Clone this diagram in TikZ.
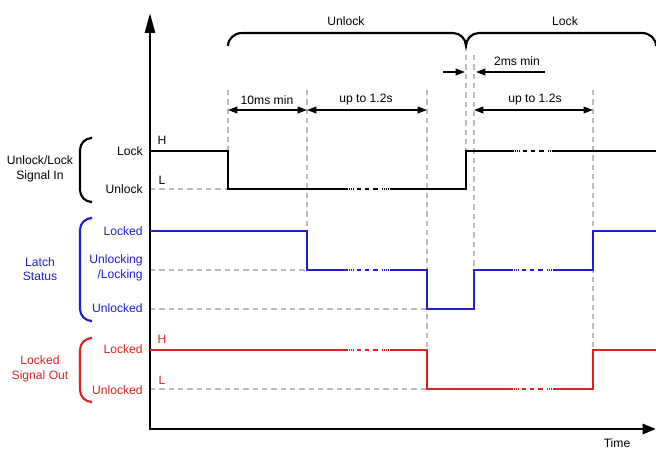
\documentclass[tikz,border=0pt]{standalone}
\usepackage{fontspec}
\setmainfont{Liberation Sans}
\usetikzlibrary{arrows.meta}
\definecolor{sigblue}{RGB}{30,30,205}
\definecolor{sigred}{RGB}{220,35,35}
\definecolor{guide}{RGB}{185,185,185}
\tikzset{
  lbl/.style={font=\fontsize{9.1}{11}\selectfont, inner sep=0pt, align=center},
  rlbl/.style={lbl, anchor=east, align=right},
  guideline/.style={guide, line width=1.4pt, dash pattern=on 4pt off 3pt},
  sig/.style={line width=2pt},
  brk/.style={line width=2pt, dash pattern=on 0.75pt off 0.75pt on 0.75pt off 0.75pt on 0.75pt off 0.75pt on 0.75pt off 2pt on 3.5pt off 2.6pt on 3.5pt off 2.6pt on 3.5pt off 3pt},
  dimline/.style={line width=1.2pt},
  tip/.style={-{Triangle[length=7pt,width=5pt]}},
  dtip/.style={{Triangle[length=7pt,width=5pt]}-{Triangle[length=7pt,width=5pt]}},
  bracket/.style={line width=1.6pt},
  axisline/.style={line width=2pt}
}
\begin{document}
\begin{tikzpicture}[x=0.75pt,y=-0.75pt]
\useasboundingbox (0,0) rectangle (656,449);

% horizontal guides
\draw[guideline] (150,189) -- (228,189);
\draw[guideline] (150,270) -- (307,270);
\draw[guideline] (150,309) -- (427,309);
\draw[guideline] (150,389) -- (427,389);
% vertical guides
\draw[guideline] (228,90) -- (228,151);
\draw[guideline] (307,90) -- (307,231);
\draw[guideline] (427,90) -- (427,350);
\draw[guideline] (466,55) -- (466,151);
\draw[guideline] (474,55) -- (474,270);
\draw[guideline] (593,90) -- (593,350);

% axes
\draw[axisline, {Triangle[length=15pt,width=7.5pt]}-{Triangle[length=10pt,width=7.5pt]}] (150,13) -- (150,429) -- (656,429);
\node[lbl] (time) at (617,443) {Time};

% black input signal
\draw[sig] (150,151) -- (228,151) -- (228,189) -- (347,189);
\draw[brk] (347,189) -- (390,189);
\draw[sig] (390,189) -- (466,189) -- (466,151) -- (513,151);
\draw[brk] (513,151) -- (552,151);
\draw[sig] (552,151) -- (660,151);

% blue latch status
\begin{scope}[sigblue]
\draw[sig] (150,231) -- (307,231) -- (307,270) -- (347,270);
\draw[brk] (347,270) -- (390,270);
\draw[sig] (390,270) -- (427,270) -- (427,309) -- (474,309) -- (474,270) -- (512,270);
\draw[brk] (512,270) -- (553,270);
\draw[sig] (553,270) -- (593,270) -- (593,231) -- (660,231);
\end{scope}

% red output signal
\begin{scope}[sigred]
\draw[sig] (150,350) -- (347,350);
\draw[brk] (347,350) -- (390,350);
\draw[sig] (390,350) -- (427,350) -- (427,389) -- (512,389);
\draw[brk] (512,389) -- (553,389);
\draw[sig] (553,389) -- (593,389) -- (593,350) -- (660,350);
\end{scope}

% level labels
\node[rlbl] (lock) at (143,151) {Lock};
\node[rlbl] (unlock) at (143,189) {Unlock};
\node[lbl] (h1) at (162,140) {H};
\node[lbl] (l1) at (162,180) {L};
\node[rlbl, sigblue] (locked) at (143,231) {Locked};
\node[rlbl, sigblue] (unlocking) at (143,268) {Unlocking\\/Locking};
\node[rlbl, sigblue] (unlocked) at (143,308) {Unlocked};
\node[rlbl, sigred] (rlocked) at (143,349) {Locked};
\node[rlbl, sigred] (runlocked) at (143,390) {Unlocked};
\node[lbl, sigred] (h2) at (162,339) {H};
\node[lbl, sigred] (l2) at (162,380) {L};

% group brackets and titles
\draw[bracket, rounded corners=9pt] (90,138) -- (80,138) -- (80,202) -- (90,202);
\draw[bracket, sigblue, rounded corners=9pt] (90,218) -- (80,218) -- (80,321) -- (90,321);
\draw[bracket, sigred, rounded corners=9pt] (90,338) -- (80,338) -- (80,402) -- (90,402);
\node[lbl] (g1) at (40,169) {Unlock/Lock\\Signal In};
\node[lbl, sigblue] (g2) at (40,269) {Latch\\Status};
\node[lbl, sigred] (g3) at (40,369) {Locked\\Signal Out};

% top brace
\draw[bracket] (228,46) to[out=90,in=180] (242,33) -- (453,33) to[out=0,in=90] (466,46)
  to[out=90,in=180] (479,33) -- (642,33) to[out=0,in=90] (656,46);
\node[lbl] (tunlock) at (346,21) {Unlock};
\node[lbl] (tlock) at (565,21) {Lock};

% dimension arrows
\draw[dimline, dtip] (228,110) -- (307,110);
\draw[dimline, dtip] (307,110) -- (427,110);
\draw[dimline, dtip] (474,110) -- (593,110);
\node[lbl] (d1) at (267,100) {10ms min};
\node[lbl] (d2) at (366,100) {up to 1.2s};
\node[lbl] (d3) at (535,100) {up to 1.2s};
\coordinate (a1s) at (443,72);
\coordinate (a1e) at (465,72);
\coordinate (a2s) at (545,72);
\coordinate (a2e) at (476,72);
\draw[dimline, tip] (a1s) -- (a1e);
\draw[dimline, tip] (a2s) -- (a2e);
\node[lbl] (d4) at (517,61) {2ms min};
\end{tikzpicture}
\end{document}
